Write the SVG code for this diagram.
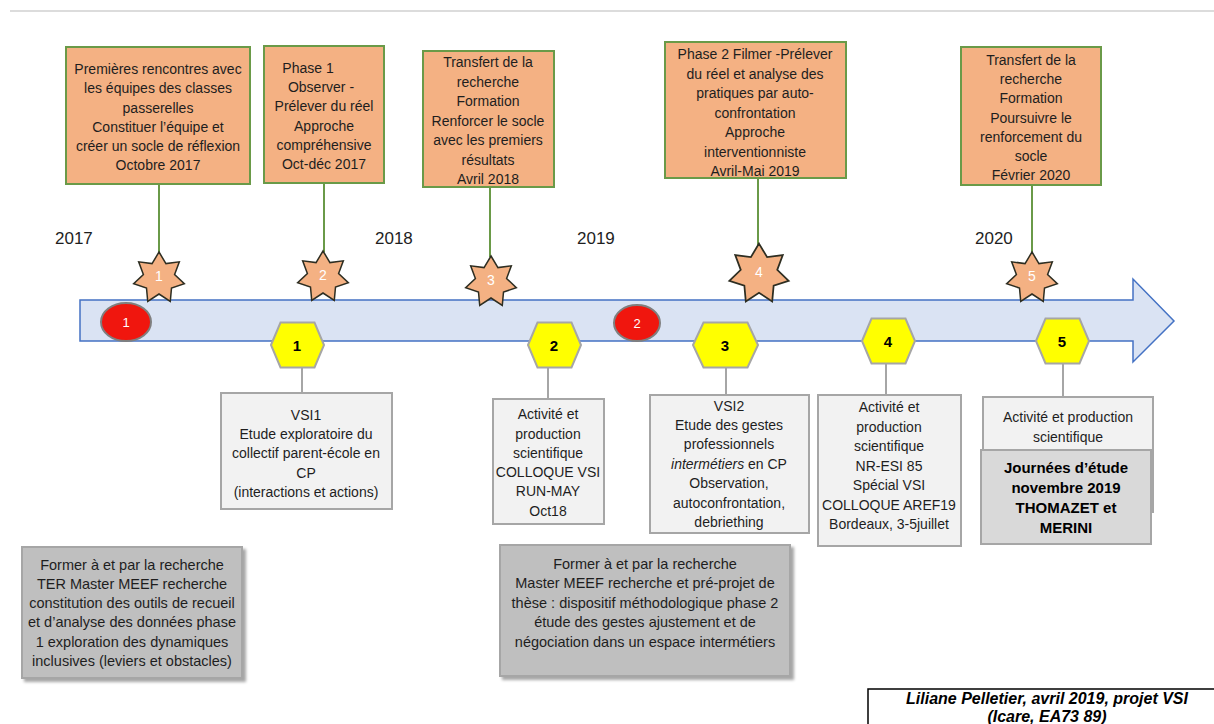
<svg xmlns="http://www.w3.org/2000/svg" xmlns:xlink="http://www.w3.org/1999/xlink" width="1214" height="724" viewBox="0 0 1214 724">
<style>
.t{font-family:"Liberation Sans",Arial,sans-serif;font-size:14px;fill:#1e1e1e;text-anchor:middle}
.tb{font-family:"Liberation Sans",Arial,sans-serif;font-size:15px;font-weight:bold;fill:#000;text-anchor:middle}
.yr{font-family:"Liberation Sans",Arial,sans-serif;font-size:17px;fill:#1e1e1e}
.sn{font-family:"Liberation Sans",Arial,sans-serif;font-size:14px;fill:#fff;text-anchor:middle}
.hn{font-family:"Liberation Sans",Arial,sans-serif;font-size:15px;font-weight:bold;fill:#000;text-anchor:middle}
.top{fill:#f4b183;stroke:#6a9a48;stroke-width:2}
.gbox{fill:#f2f2f2;stroke:#a6a6a6;stroke-width:2}
.dbox{fill:#bfbfbf;stroke:#a6a6a6;stroke-width:2}
.jbox{fill:#d9d9d9;stroke:#a6a6a6;stroke-width:2}
.star{fill:#f4b183;stroke:#2e2e22;stroke-width:1.5}
.hex{fill:#ffff00;stroke:#a6a6a6;stroke-width:2}
.red{fill:#f0160e;stroke:#7f7f7f;stroke-width:2}
.gl{stroke:#6a9a48;stroke-width:2;fill:none}
.gy{stroke:#a6a6a6;stroke-width:2;fill:none}
</style>
<defs>
<polygon id="starshape" points="0,-26 6.94,-14.42 20.33,-16.21 15.6,-3.56 25.35,5.79 12.51,9.98 11.28,23.43 0,16 -11.28,23.43 -12.51,9.98 -25.35,5.79 -15.6,-3.56 -20.33,-16.21 -6.94,-14.42"/>
<filter id="sh" x="-20%" y="-20%" width="150%" height="150%"><feDropShadow dx="3" dy="3" stdDeviation="1.5" flood-color="#000" flood-opacity="0.35"/></filter>
</defs>
<rect width="1214" height="724" fill="#fff"/>
<line x1="10" y1="11" x2="1214" y2="11" stroke="#d0d0d0" stroke-width="1.5"/>

<g id="timeline">
<path d="M80,300 H1133 V279 L1174,321 L1133,362 V341 H80 Z" fill="#dae3f3" stroke="#4472c4" stroke-width="1.5"/>
</g>

<g id="years">
<text class="yr" x="55" y="244">2017</text>
<text class="yr" x="375" y="244">2018</text>
<text class="yr" x="577" y="244">2019</text>
<text class="yr" x="975" y="244">2020</text>
</g>

<g id="connectors">
<line class="gl" x1="159" y1="184" x2="159" y2="253"/>
<line class="gl" x1="324" y1="183" x2="324" y2="252"/>
<line class="gl" x1="490" y1="187" x2="490" y2="257"/>
<line class="gl" x1="758" y1="178" x2="758" y2="245"/>
<line class="gl" x1="1032" y1="185" x2="1032" y2="253"/>
<line class="gy" x1="302" y1="367" x2="302" y2="393"/>
<line class="gy" x1="548" y1="367" x2="548" y2="399"/>
<line class="gy" x1="726" y1="367" x2="726" y2="395"/>
<line class="gy" x1="886" y1="363" x2="886" y2="395"/>
<line class="gy" x1="1063" y1="363" x2="1063" y2="397"/>
<line class="gy" x1="124" y1="341" x2="124" y2="547" filter="url(#sh)"/>
<line class="gy" x1="638" y1="341" x2="638" y2="545" filter="url(#sh)"/>
</g>

<g id="top1"><rect class="top" x="66" y="47" width="184" height="137"/>
<text class="t"><tspan x="158" y="74">Premières rencontres avec</tspan><tspan x="158" y="93">les équipes des classes</tspan><tspan x="158" y="113">passerelles</tspan><tspan x="158" y="132">Constituer l’équipe et</tspan><tspan x="158" y="151">créer un socle de réflexion</tspan><tspan x="158" y="170">Octobre 2017</tspan></text></g>

<g id="top2"><rect class="top" x="264" y="46" width="120" height="137"/>
<text class="t"><tspan x="308" y="73">Phase 1</tspan><tspan x="321" y="92">Observer -</tspan><tspan x="324" y="111">Prélever du réel</tspan><tspan x="324" y="131">Approche</tspan><tspan x="324" y="150">compréhensive</tspan><tspan x="324" y="169">Oct-déc 2017</tspan></text></g>

<g id="top3"><rect class="top" x="423" y="51" width="131" height="136"/>
<text class="t"><tspan x="488" y="67">Transfert de la</tspan><tspan x="488" y="87">recherche</tspan><tspan x="488" y="106">Formation</tspan><tspan x="488" y="126">Renforcer le socle</tspan><tspan x="488" y="145">avec les premiers</tspan><tspan x="488" y="165">résultats</tspan><tspan x="488" y="184">Avril 2018</tspan></text></g>

<g id="top4"><rect class="top" x="665" y="42" width="181" height="136"/>
<text class="t"><tspan x="755" y="59">Phase 2 Filmer -Prélever</tspan><tspan x="755" y="79">du réel et analyse des</tspan><tspan x="755" y="98">pratiques par auto-</tspan><tspan x="755" y="118">confrontation</tspan><tspan x="755" y="137">Approche</tspan><tspan x="755" y="157">interventionniste</tspan><tspan x="755" y="176">Avril-Mai 2019</tspan></text></g>

<g id="top5"><rect class="top" x="961" y="47" width="140" height="138"/>
<text class="t"><tspan x="1031" y="65">Transfert de la</tspan><tspan x="1031" y="84">recherche</tspan><tspan x="1031" y="103">Formation</tspan><tspan x="1031" y="123">Poursuivre le</tspan><tspan x="1031" y="142">renforcement du</tspan><tspan x="1031" y="161">socle</tspan><tspan x="1031" y="180">Février 2020</tspan></text></g>

<g id="star1"><use xlink:href="#starshape" class="star" transform="translate(159,278)"/><text class="sn" x="159" y="281">1</text></g>
<g id="star2"><use xlink:href="#starshape" class="star" transform="translate(323,277)"/><text class="sn" x="323" y="280">2</text></g>
<g id="star3"><use xlink:href="#starshape" class="star" transform="translate(491,282)"/><text class="sn" x="491" y="285">3</text></g>
<g id="star4"><use xlink:href="#starshape" class="star" transform="translate(759,274) scale(1.17)"/><text class="sn" x="759" y="277">4</text></g>
<g id="star5"><use xlink:href="#starshape" class="star" transform="translate(1032,278)"/><text class="sn" x="1032" y="281">5</text></g>

<g id="red1"><ellipse class="red" cx="126" cy="322" rx="25" ry="19"/><text class="sn" x="126" y="327" style="font-size:13px">1</text></g>
<g id="red2"><ellipse class="red" cx="637" cy="323" rx="23" ry="18"/><text class="sn" x="637" y="328" style="font-size:13px">2</text></g>

<g id="hex1"><polygon class="hex" points="271,345 280.5,322.5 314.5,322.5 324,345 314.5,367.5 280.5,367.5"/><text class="hn" x="297" y="351">1</text></g>
<g id="hex2"><polygon class="hex" points="528,345 537.5,322.5 571.5,322.5 581,345 571.5,367.5 537.5,367.5"/><text class="hn" x="554" y="351">2</text></g>
<g id="hex3"><polygon class="hex" points="693,345 703.5,322.5 747.5,322.5 758,345 747.5,367.5 703.5,367.5"/><text class="hn" x="725" y="351">3</text></g>
<g id="hex4"><polygon class="hex" points="862,341 871.5,318.5 905.5,318.5 915,341 905.5,363.5 871.5,363.5"/><text class="hn" x="888" y="347">4</text></g>
<g id="hex5"><polygon class="hex" points="1036,341 1045.5,318.5 1079.5,318.5 1089,341 1079.5,363.5 1045.5,363.5"/><text class="hn" x="1062" y="347">5</text></g>

<g id="box-vsi1"><rect class="gbox" x="221" y="393" width="171" height="116"/>
<text class="t"><tspan x="306" y="420">VSI1</tspan><tspan x="306" y="439">Etude exploratoire du</tspan><tspan x="306" y="458">collectif parent-école en</tspan><tspan x="306" y="478">CP</tspan><tspan x="306" y="497">(interactions et actions)</tspan></text></g>

<g id="box-act2"><rect class="gbox" x="493" y="399" width="111" height="125"/>
<text class="t"><tspan x="548" y="419">Activité et</tspan><tspan x="548" y="439">production</tspan><tspan x="548" y="458">scientifique</tspan><tspan x="548" y="477">COLLOQUE VSI</tspan><tspan x="548" y="496">RUN-MAY</tspan><tspan x="548" y="516">Oct18</tspan></text></g>

<g id="box-vsi2"><rect class="gbox" x="650" y="395" width="159" height="138"/>
<text class="t"><tspan x="729" y="411">VSI2</tspan><tspan x="729" y="430">Etude des gestes</tspan><tspan x="729" y="449">professionnels</tspan><tspan x="729" y="469"><tspan font-style="italic">intermétiers</tspan> en CP</tspan><tspan x="729" y="488">Observation,</tspan><tspan x="729" y="508">autoconfrontation,</tspan><tspan x="729" y="527">debriething</tspan></text></g>

<g id="box-act4"><rect class="gbox" x="818" y="395" width="143" height="151"/>
<text class="t"><tspan x="889" y="412">Activité et</tspan><tspan x="889" y="432">production</tspan><tspan x="889" y="451">scientifique</tspan><tspan x="889" y="471">NR-ESI 85</tspan><tspan x="889" y="490">Spécial VSI</tspan><tspan x="889" y="510">COLLOQUE AREF19</tspan><tspan x="889" y="529">Bordeaux, 3-5juillet</tspan></text></g>

<g id="box-act5"><rect class="gbox" x="983" y="397" width="170" height="115"/>
<text class="t"><tspan x="1068" y="422">Activité et production</tspan><tspan x="1068" y="442">scientifique</tspan></text></g>

<g id="box-journees"><rect class="jbox" x="981" y="450" width="170" height="94"/>
<text class="tb"><tspan x="1066" y="473">Journées d’étude</tspan><tspan x="1066" y="493">novembre 2019</tspan><tspan x="1066" y="513">THOMAZET et</tspan><tspan x="1066" y="533">MERINI</tspan></text></g>

<g id="box-former1"><rect class="dbox" x="22" y="547" width="220" height="131" filter="url(#sh)"/>
<text class="t" style="font-size:14.5px"><tspan x="132" y="570">Former à et par la recherche</tspan><tspan x="132" y="589">TER Master MEEF recherche</tspan><tspan x="132" y="608">constitution des outils de recueil</tspan><tspan x="132" y="627">et d’analyse des données phase</tspan><tspan x="132" y="647">1 exploration des dynamiques</tspan><tspan x="132" y="666">inclusives (leviers et obstacles)</tspan></text></g>

<g id="box-former2"><rect class="dbox" x="500" y="545" width="290" height="131" filter="url(#sh)"/>
<text class="t" style="font-size:14.5px"><tspan x="645" y="569">Former à et par la recherche</tspan><tspan x="645" y="588">Master MEEF recherche et pré-projet de</tspan><tspan x="645" y="608">thèse : dispositif méthodologique phase 2</tspan><tspan x="645" y="627">étude des gestes ajustement et de</tspan><tspan x="645" y="647">négociation dans un espace intermétiers</tspan></text></g>

<g id="footer"><rect x="868" y="689" width="360" height="50" fill="#fff" stroke="#000" stroke-width="1.5"/>
<text style="font-family:'Liberation Sans',Arial,sans-serif;font-size:16px;font-weight:bold;font-style:italic;fill:#000;text-anchor:middle"><tspan x="1047" y="704">Liliane Pelletier, avril 2019, projet VSI</tspan><tspan x="1047" y="722">(Icare, EA73 89)</tspan></text></g>
</svg>
